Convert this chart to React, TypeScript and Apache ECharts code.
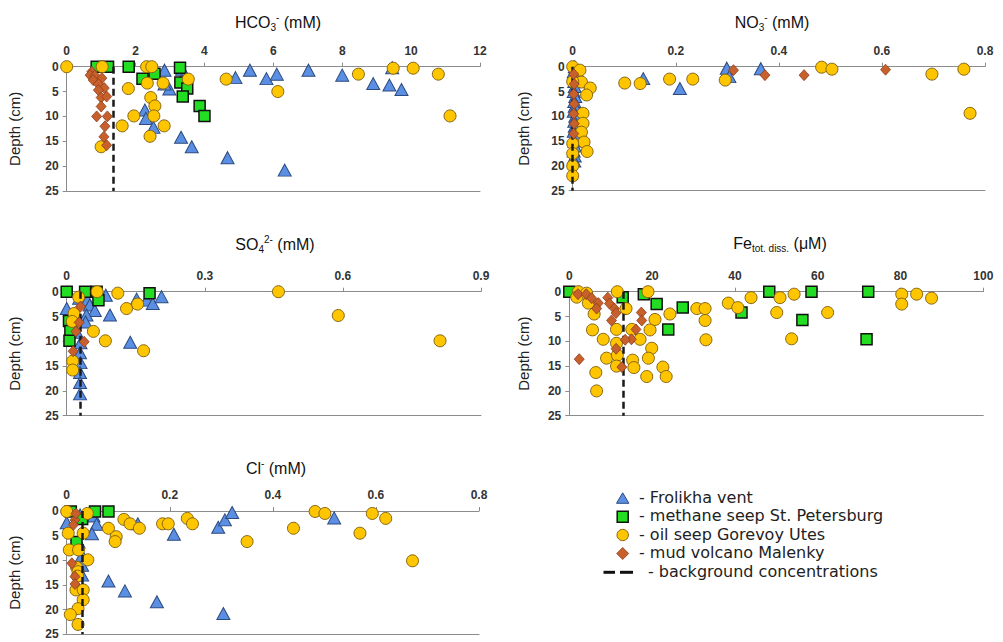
import React, { useEffect, useRef } from "react";
import * as echarts from "echarts";

// ---------- DATA: [concentration, depth cm] ----------
const hco3Frolikha = [[2.84,0.7],[3.35,0.5],[4.9,2.2],[5.32,0.7],[5.8,2.4],[6.1,1.5],[7.02,0.7],[8.0,1.7],[8.9,3.4],[9.37,3.7],[9.72,4.6],[9.45,0.2],[2.98,4.5],[2.84,3.5],[3.34,2.7],[2.27,8.7],[2.3,10.4],[2.52,12.2],[3.32,14.2],[3.63,16.1],[4.67,18.3],[6.33,20.8]];
const hco3Methane = [[0.87,0],[1.2,0],[1.8,0],[3.29,0.2],[2.2,2.4],[2.55,1.4],[3.3,3.2],[3.5,4.4],[3.37,6.0],[3.86,7.9],[4.0,9.9]];
const hco3Oil = [[0,0],[1.03,0],[2.32,0],[2.47,0],[9.48,0.3],[10.06,0.3],[8.47,1.5],[10.79,1.5],[4.63,2.5],[3.53,2.5],[2.34,3.3],[2.8,3.3],[1.79,4.4],[6.13,5.0],[2.44,6.2],[2.56,7.9],[1.95,9.9],[2.53,9.9],[11.13,9.9],[1.61,11.9],[2.83,11.9],[2.42,14.0],[1.0,16.1]];
const hco3Mud = [[0.73,1.0],[0.68,1.7],[0.82,1.8],[1.02,2.3],[0.77,2.7],[0.92,3.5],[1.09,4.3],[0.92,4.7],[1.0,6.2],[1.16,6.0],[1.0,8.0],[0.87,10],[1.18,10],[1.11,12],[1.08,14.1],[1.16,15.8]];
const hco3Background = 1.35;

const no3Frolikha = [[0.004,0],[0.002,1],[0.005,2],[0.003,3],[0.004,4],[0.002,5],[0.005,6],[0.003,7],[0.004,8],[0.002,9],[0.005,10],[0.003,11],[0.004,12],[0.002,13],[0.005,14],[0.003,15],[0.004,16],[0.002,17],[0.004,18],[0.003,19],[0.137,2.4],[0.208,4.4],[0.299,0.3],[0.304,2.0],[0.365,0.4]];
const no3Methane: number[][] = [];
const no3Oil = [[0,0],[0.014,0.7],[0.017,3.1],[0.034,4.3],[0.027,5.7],[0.02,9.4],[0.02,11.4],[0.017,13.2],[0.022,15.2],[0.028,17.1],[0,3.0],[0,15.5],[0,17.5],[0,20],[0,22],[0.101,3.3],[0.131,3.4],[0.188,2.5],[0.233,2.5],[0.296,2.7],[0.483,0.1],[0.503,0.5],[0.697,1.5],[0.759,0.5],[0.771,9.4]];
const no3Mud = [[0.312,0.7],[0.373,1.7],[0.449,1.7],[0.607,0.6],[0.002,1.5],[0.003,3.5],[0.002,5.5],[0.003,7.5],[0.002,9.5],[0.003,11.5],[0.002,13.5]];
const no3Background = 0.002;

const so4Frolikha = [[0,3.4],[0.027,1.3],[0.045,1.7],[0.05,2.7],[0.061,3.8],[0.043,4.7],[0.041,6.1],[0.085,0.7],[0.094,4.7],[0.152,1.5],[0.174,1.7],[0.187,2.4],[0.206,1.0],[0.138,10.2],[0.022,8.2],[0.03,10.3],[0.029,12.3],[0.03,14.3],[0.029,16.3],[0.029,18.3],[0.029,20.6]];
const so4Methane = [[0,0],[0.04,0],[0.065,0],[0.18,0.3],[0.069,1.7],[0.005,5.9],[0.008,7.9],[0.006,9.9]];
const so4Oil = [[0.026,1.1],[0.066,0],[0.111,0.3],[0.13,3.4],[0.154,2.5],[0.016,4.4],[0.012,6.0],[0.058,8.0],[0.084,9.9],[0.167,11.9],[0.013,14.0],[0.013,15.8],[0.46,0],[0.59,4.8],[0.811,9.9]];
const so4Mud = [[0.038,10.1],[0.014,12.0],[0.027,6.2],[0.02,8],[0.03,3]];
const so4Background = 0.027;

const feFrolikha: number[][] = [];
const feMethane = [[0,0],[12.9,1.1],[18,0.5],[21.1,2.5],[27.4,3.2],[41.6,4.2],[48.3,0],[58.5,0],[56.3,5.7],[72.2,0],[71.8,9.6],[23.9,7.6]];
const feOil = [[2.2,0],[1.8,1.1],[4.2,0.3],[4.6,2.3],[6.0,4.5],[5.6,7.7],[8.2,9.6],[9.0,13.4],[6.4,16.3],[6.6,20],[11.6,0],[13.7,3.4],[11.4,7.6],[11.4,10.4],[11.6,12.8],[11.4,15],[15.1,7.6],[17.1,9.6],[15.3,13.8],[15.6,15.3],[18.7,17.1],[19.0,0],[19.5,7.7],[20.7,5.6],[24.3,4.5],[19.9,11.4],[19.1,13.4],[22.6,15.2],[23.4,17.1],[30.8,3.4],[32.8,3.4],[32.8,5.8],[33,9.7],[38.4,2.3],[40.7,3.2],[43.9,1.2],[50.9,1.2],[54.3,0.5],[50.1,4.2],[53.7,9.5],[62.4,4.2],[80.3,0.5],[80.3,2.5],[83.9,0.5],[87.5,1.3]];
const feMud = [[2.1,0.5],[4.1,0.5],[5.4,1.3],[7.0,2.3],[6.6,3.4],[9.3,1.2],[9.7,2.4],[10.9,3.4],[11.3,4.3],[10.2,5.8],[17.4,4.2],[17.5,5.8],[16.1,7.6],[15.0,9.6],[13.5,9.7],[11.3,11.5],[12.7,15.2],[2.4,13.6]];
const feBackground = 13.0;

const clFrolikha = [[0,2.4],[0.052,1.0],[0.058,2.7],[0.049,4.6],[0.023,6.3],[0.026,0.8],[0.138,2.6],[0.208,4.7],[0.294,3.3],[0.307,1.8],[0.321,0.3],[0.519,1.4],[0.081,14.2],[0.113,16.2],[0.175,18.4],[0.304,20.8],[0.03,9],[0.03,11],[0.03,13]];
const clMethane = [[0.008,0.1],[0.055,0.1],[0.081,0.1],[0.03,1.6],[0.019,6.3]];
const clOil = [[0,0.1],[0.04,0.5],[0.111,1.7],[0.123,2.6],[0.141,3.5],[0.081,3.5],[0.096,5.2],[0.094,6.2],[0.186,2.6],[0.197,2.6],[0.234,1.5],[0.244,2.6],[0.35,6.2],[0.44,3.5],[0.482,0.1],[0.501,0.5],[0.569,4.5],[0.593,0.5],[0.619,1.5],[0.671,10.1],[0.003,4.5],[0.032,4.5],[0.005,7.9],[0.023,7.9],[0.041,9.9],[0.019,11.4],[0.022,12.3],[0.021,13.2],[0.018,16],[0.032,16],[0.032,18],[0.022,19.8],[0.007,21],[0.022,23]];
const clMud = [[0.016,1.8],[0.013,2.8],[0.01,10.6],[0.016,13.3],[0.016,14.8],[0.018,0.5]];
const clBackground = 0.034;

const depthMax = 25;
const depthInterval = 5;
const seriesNames = ["Frolikha vent", "methane seep St. Petersburg", "oil seep Gorevoy Utes", "mud volcano Malenky"];
const legendLabels = ["- Frolikha vent", "- methane seep St. Petersburg", "- oil seep Gorevoy Utes", "- mud volcano Malenky", "- background concentrations"];

// ---------- panel layout ----------
const panels = [
  { title: "HCO{sub|3}{sup|-} (mM)", tx: 278, ty: 22, max: 12, interval: 2, bg: hco3Background,
    data: [hco3Frolikha, hco3Methane, hco3Oil, hco3Mud], grid: { left: 66.7, top: 66.7, width: 413.3, height: 124.3 }, nameGap: 45 },
  { title: "NO{sub|3}{sup|-} (mM)", tx: 772, ty: 22, max: 0.8, interval: 0.2, bg: no3Background,
    data: [no3Frolikha, no3Methane, no3Oil, no3Mud], grid: { left: 572.7, top: 66.7, width: 412.3, height: 124 }, nameGap: 42 },
  { title: "SO{sub|4}{sup|2-} (mM)", tx: 275, ty: 244, max: 0.9, interval: 0.3, bg: so4Background,
    data: [so4Frolikha, so4Methane, so4Oil, so4Mud], grid: { left: 66.7, top: 291.7, width: 414.3, height: 124 }, nameGap: 45 },
  { title: "Fe{sub|tot. diss.} (μM)", tx: 780, ty: 243, max: 100, interval: 20, bg: feBackground,
    data: [feFrolikha, feMethane, feOil, feMud], grid: { left: 569.3, top: 291.7, width: 414, height: 124 }, nameGap: 38 },
  { title: "Cl{sup|-} (mM)", tx: 276, ty: 468, max: 0.8, interval: 0.2, bg: clBackground,
    data: [clFrolikha, clMethane, clOil, clMud], grid: { left: 66.7, top: 511, width: 412.3, height: 123.3 }, nameGap: 45 },
];

const COL = {
  tri: "#5b8fe3", triB: "#2c4a7e",
  sq: "#22dd22", sqB: "#111111",
  circ: "#ffc600", circB: "#866512",
  dia: "#c8602c", diaB: "#8c3d1b",
};
const axisGray = "#8c8c8c";
const FONT = "Arial, 'Liberation Sans', sans-serif";
const labelStyle = { fontSize: 12, fontWeight: "bold" as const, color: "#333", fontFamily: FONT };

function buildOption() {
  const grid: any[] = [];
  const xAxis: any[] = [];
  const yAxis: any[] = [];
  const series: any[] = [];
  const graphic: any[] = [];

  const styles = [
    { symbol: "triangle", size: [13, 12], color: COL.tri, border: COL.triB, bw: 1 },
    { symbol: "rect", size: 11, color: COL.sq, border: COL.sqB, bw: 1.5 },
    { symbol: "circle", size: 12, color: COL.circ, border: COL.circB, bw: 1 },
    { symbol: "diamond", size: [10, 11], color: COL.dia, border: COL.diaB, bw: 0.8 },
  ];

  panels.forEach((p, i) => {
    grid.push({ ...p.grid, containLabel: false });
    xAxis.push({
      gridIndex: i, type: "value", position: "top", min: 0, max: p.max, interval: p.interval,
      axisLine: { show: true, onZero: false, lineStyle: { color: axisGray, width: 1 } },
      axisTick: { show: true, inside: false, length: 4, lineStyle: { color: axisGray } },
      axisLabel: { ...labelStyle, margin: 10, showMaxLabel: true, showMinLabel: true },
      splitLine: { show: false },
    });
    xAxis.push({
      gridIndex: i, type: "value", position: "bottom", min: 0, max: p.max,
      axisLine: { show: true, onZero: false, lineStyle: { color: axisGray, width: 1 } },
      axisTick: { show: false }, axisLabel: { show: false }, splitLine: { show: false },
    });
    yAxis.push({
      gridIndex: i, type: "value", inverse: true, min: 0, max: depthMax, interval: depthInterval,
      name: "Depth (cm)", nameLocation: "middle", nameGap: p.nameGap,
      nameTextStyle: { fontSize: 15, fontFamily: FONT, color: "#222" },
      axisLine: { show: true, onZero: false, lineStyle: { color: axisGray, width: 1 } },
      axisTick: { show: true, length: 4, lineStyle: { color: axisGray } },
      axisLabel: { ...labelStyle, margin: 8 },
      splitLine: { show: false },
    });
    p.data.forEach((d, k) => {
      const s = styles[k];
      const ser: any = {
        type: "scatter", name: seriesNames[k], xAxisIndex: i * 2, yAxisIndex: i,
        data: d, symbol: s.symbol, symbolSize: s.size, z: 2 + k,
        itemStyle: { color: s.color, borderColor: s.border, borderWidth: s.bw, opacity: 1 },
        emphasis: { disabled: true },
      };
      if (k === 3) {
        ser.markLine = {
          silent: true, symbol: ["none", "none"], label: { show: false }, animation: false,
          lineStyle: { type: [7, 4], color: "#1a1a1a", width: 2.5 },
          data: [{ xAxis: p.bg }],
        };
      }
      series.push(ser);
    });
    graphic.push({
      type: "text", x: p.tx, y: p.ty, z: 10,
      style: {
        text: p.title,
        fontSize: 16, fontFamily: FONT, fill: "#111",
        align: "center", verticalAlign: "middle", lineHeight: 20,
        rich: {
          sub: { fontSize: 10, lineHeight: 10, verticalAlign: "bottom", fill: "#111", fontFamily: FONT },
          sup: { fontSize: 10, lineHeight: 10, verticalAlign: "top", fill: "#111", fontFamily: FONT },
        },
      },
    });
  });

  // legend (drawn)
  const lx = 622.7;
  const rows = [498.3, 516.7, 535, 553.5, 572.3];
  graphic.push(
    { type: "polygon", shape: { points: [[lx, rows[0] - 5.5], [lx + 6.2, rows[0] + 5], [lx - 6.2, rows[0] + 5]] }, style: { fill: COL.tri, stroke: COL.triB, lineWidth: 1 } },
    { type: "rect", shape: { x: lx - 5.5, y: rows[1] - 5.5, width: 11, height: 11 }, style: { fill: COL.sq, stroke: COL.sqB, lineWidth: 1.5 } },
    { type: "circle", shape: { cx: lx, cy: rows[2], r: 5.7 }, style: { fill: COL.circ, stroke: COL.circB, lineWidth: 1 } },
    { type: "polygon", shape: { points: [[lx, rows[3] - 6], [lx + 6, rows[3]], [lx, rows[3] + 6], [lx - 6, rows[3]]] }, style: { fill: COL.dia, stroke: COL.diaB, lineWidth: 0.8 } },
    { type: "line", shape: { x1: 603.5, y1: rows[4], x2: 615, y2: rows[4] }, style: { stroke: "#111", lineWidth: 3 } },
    { type: "line", shape: { x1: 620, y1: rows[4], x2: 633, y2: rows[4] }, style: { stroke: "#111", lineWidth: 3 } },
  );
  legendLabels.forEach((t, k) => {
    graphic.push({
      type: "text", x: k === 4 ? 648 : 639, y: rows[k] - 1,
      style: { text: t, fontSize: 16, lineHeight: 17, fontFamily: "'DejaVu Sans', sans-serif", fill: "#222", align: "left", verticalAlign: "middle" },
    });
  });

  return { animation: false, backgroundColor: "#ffffff", grid, xAxis, yAxis, series, graphic };
}

export default function App() {
  const ref = useRef<HTMLDivElement>(null);
  useEffect(() => {
    if (!ref.current) return;
    const chart = echarts.init(ref.current, undefined, { renderer: "svg" });
    chart.setOption(buildOption() as any);
    return () => chart.dispose();
  }, []);
  return <div ref={ref} style={{ position: "absolute", left: 0, top: 0, width: 1003, height: 642 }} />;
}
